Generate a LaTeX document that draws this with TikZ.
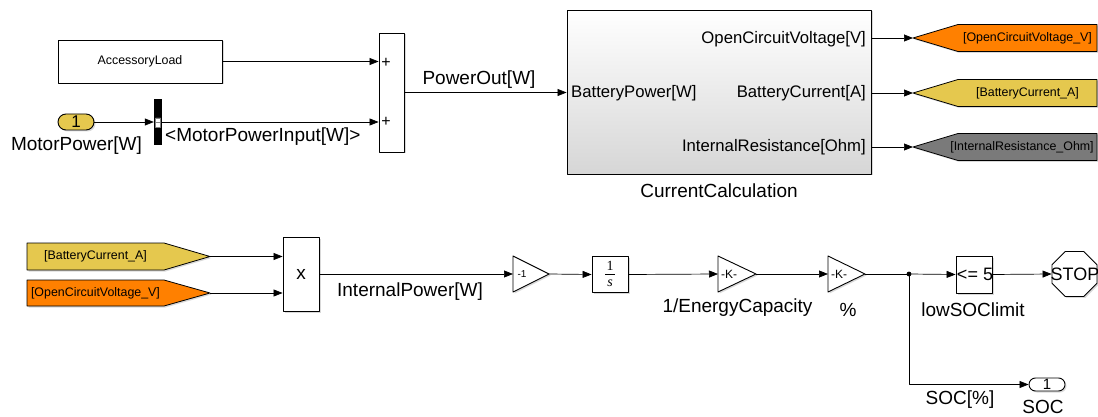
\documentclass[tikz,border=0pt]{standalone}
\usepackage{fontspec}
\setmainfont{Liberation Sans}
\newfontfamily\blkserif{Liberation Serif}
\usetikzlibrary{arrows.meta,shapes.geometric,shadows}
\definecolor{gotoorange}{RGB}{255,128,0}
\definecolor{gotoyellow}{RGB}{229,200,78}
\definecolor{gotogray}{RGB}{122,122,122}
\begin{document}
\begin{tikzpicture}[line join=round,>={Triangle[length=9pt,width=7pt]},x=1pt,y=-1pt,
	font=\fontsize{19}{21}\selectfont,
	blk/.style={draw,line width=0.9pt,fill=white,inner sep=0pt,drop shadow={shadow xshift=1.5pt,shadow yshift=-1.5pt,opacity=0.3}},
	sig/.style={line width=0.7pt},
	lbl/.style={inner sep=0pt},
	port/.style={inner sep=0pt,font=\fontsize{16.7}{18}\selectfont},
	small/.style={inner sep=0pt,font=\fontsize{12.4}{13}\selectfont},
	tag/.style={draw,line width=0.8pt,drop shadow={shadow xshift=1.5pt,shadow yshift=-1.5pt,opacity=0.3}}]
			\useasboundingbox (0,0) rectangle (1098,417);
			\node[blk,minimum width=164pt,minimum height=43pt,font=\fontsize{12.4}{13}\selectfont] (accload) at (140,61.5) {AccessoryLoad};
			\node[blk,fill=gotoyellow,rounded corners=8pt,minimum width=36pt,minimum height=16pt,font=\fontsize{17}{17}\selectfont] (motorin) at (76,122) {1};
			\node[lbl] (lmotor) at (76.5,146) {MotorPower[W]};
			\node[fill=black,inner sep=0pt,minimum width=8pt,minimum height=46pt] (bus) at (158,122) {};
			\draw[fill=white,draw=gray,line width=0.5pt] (155.5,118) rectangle (160.5,127) (155.5,122.5)--(160.5,122.5);
			\node[lbl,anchor=west] (lbus) at (165,137) {<MotorPowerInput[W]>};
			\node[blk,minimum width=25pt,minimum height=119pt] (sum) at (391.5,92.5) {};
			\node[inner sep=0pt,font=\fontsize{16}{16}\selectfont] (plusa) at (386,62.5) {+};
			\node[inner sep=0pt,font=\fontsize{16}{16}\selectfont] (plusb) at (386,122) {+};
			\draw[sig,->] (accload.east) -- (accload.east -| sum.west);
			\draw[sig,->] (motorin.east) -- (bus.west);
			\draw[sig,->] (bus.east) -- (bus.east -| sum.west);
			\node[blk,top color=white,bottom color=gray!32,minimum width=304pt,minimum height=164pt] (calc) at (719,92) {};
			\node[lbl] (lcalc) at (719,191) {CurrentCalculation};
			\node[lbl] (lpow) at (479,80) {PowerOut[W]};
			\draw[sig,->] (sum.east) -- (sum.east -| calc.west);
			\node[port,anchor=west] (pbp) at (571,93) {BatteryPower[W]};
			\node[port,anchor=east] (pocv) at (866,39) {OpenCircuitVoltage[V]};
			\node[port,anchor=east] (pbc) at (866,93) {BatteryCurrent[A]};
			\node[port,anchor=east] (pir) at (866,147) {InternalResistance[Ohm]};
			\draw[tag,fill=gotoorange] (913,38) -- (958,24.5) -- (1097,24.5) -- (1097,51.5) -- (958,51.5) -- cycle;
			\draw[tag,fill=gotoyellow] (913,93) -- (958,79.5) -- (1097,79.5) -- (1097,106.5) -- (958,106.5) -- cycle;
			\draw[tag,fill=gotogray] (913,147) -- (958,133.5) -- (1097,133.5) -- (1097,160.5) -- (958,160.5) -- cycle;
			\coordinate (gocv) at (913,38);
			\coordinate (gbc) at (913,93);
			\coordinate (gir) at (913,147);
			\node[small] (tgocv) at (1027.5,38) {[OpenCircuitVoltage\_V]};
			\node[small] (tgbc) at (1027.5,93) {[BatteryCurrent\_A]};
			\node[small] (tgir) at (1022,147) {[InternalResistance\_Ohm]};
			\draw[sig,->] (calc.east |- gocv) -- (gocv);
			\draw[sig,->] (calc.east |- gbc) -- (gbc);
			\draw[sig,->] (calc.east |- gir) -- (gir);
			\draw[tag,fill=gotoyellow] (27,243) -- (164,243) -- (210,256.5) -- (164,270) -- (27,270) -- cycle;
			\draw[tag,fill=gotoorange] (27,280) -- (164,280) -- (210,293) -- (164,306) -- (27,306) -- cycle;
			\coordinate (fbc) at (210,256.5);
			\coordinate (focv) at (210,293);
			\node[small] (tfbc) at (95.5,256.5) {[BatteryCurrent\_A]};
			\node[small] (tfocv) at (95.5,293) {[OpenCircuitVoltage\_V]};
			\node[blk,minimum width=36pt,minimum height=74pt] (prod) at (301,274) {x};
			\draw[sig,->] (fbc) -- (fbc -| prod.west);
			\draw[sig,->] (focv) -- (focv -| prod.west);
			\node[lbl] (lip) at (410,292) {InternalPower[W]};
			\draw[blk] (513,256) -- (549,274) -- (513,292) -- cycle;
			\coordinate (gaina) at (513,274);
			\coordinate (gainaout) at (549,274);
			\node[inner sep=0pt,font=\fontsize{10}{10}\selectfont] (tgaina) at (522,274) {-1};
			\node[blk,minimum size=36pt] (integ) at (610,274.5) {};
			\node[inner sep=0pt,font=\blkserif\fontsize{14}{14}\selectfont] (integnum) at (610,266) {1};
			\node[inner sep=0pt,font=\blkserif\itshape\fontsize{14}{14}\selectfont] (integden) at (610,283.5) {s};
			\draw[line width=0.6pt] (605,274.5) -- (615,274.5);
			\draw[blk] (718,256) -- (756,274) -- (718,292) -- cycle;
			\coordinate (gainb) at (718,274);
			\coordinate (gainbout) at (756,274);
			\node[inner sep=0pt,font=\fontsize{12}{12}\selectfont] (tgainb) at (729,274) {-K-};
			\node[lbl] (lec) at (737.5,308) {1/EnergyCapacity};
			\draw[blk] (828,256) -- (865,274) -- (828,292) -- cycle;
			\coordinate (gainc) at (828,274);
			\coordinate (gaincout) at (865,274);
			\node[inner sep=0pt,font=\fontsize{12}{12}\selectfont] (tgainc) at (839,274) {-K-};
			\node[lbl] (lpct) at (848,310) {\%};
			\draw[sig,->] (prod.east) -- (gaina);
			\draw[sig,->] (gainaout) -- (integ.west);
			\draw[sig,->] (integ.east) -- (gainb);
			\draw[sig,->] (gainbout) -- (gainc);
			\coordinate (jn) at (909,274);
			\fill (jn) circle (2.4pt);
			\node[blk,minimum width=36pt,minimum height=37pt] (cmp) at (974,274.5) {};
			\node[inner sep=0pt,font=\fontsize{18}{18}\selectfont] (tcmp) at (975,274.5) {<= 5};
			\node[lbl] (llow) at (973,310) {lowSOClimit};
			\node[blk,regular polygon,regular polygon sides=8,minimum size=48.7pt] (stop) at (1074.5,274) {};
			\node[inner sep=0pt,font=\fontsize{18}{18}\selectfont] (tstop) at (1075,274) {STOP};
			\node[blk,rounded corners=6.5pt,minimum width=36pt,minimum height=13pt,font=\fontsize{15}{15}\selectfont] (socout) at (1047,384.5) {1};
			\node[lbl] (lsocp) at (960,400) {SOC[\%]};
			\node[lbl] (lsoc) at (1043,407) {SOC};
			\draw[sig] (gaincout) -- (jn);
			\draw[sig,->] (jn) -- (cmp.west);
			\draw[sig,->] (cmp.east) -- (stop.west);
			\draw[sig,->] (jn) |- (socout.west);
		\end{tikzpicture}
\end{document}
